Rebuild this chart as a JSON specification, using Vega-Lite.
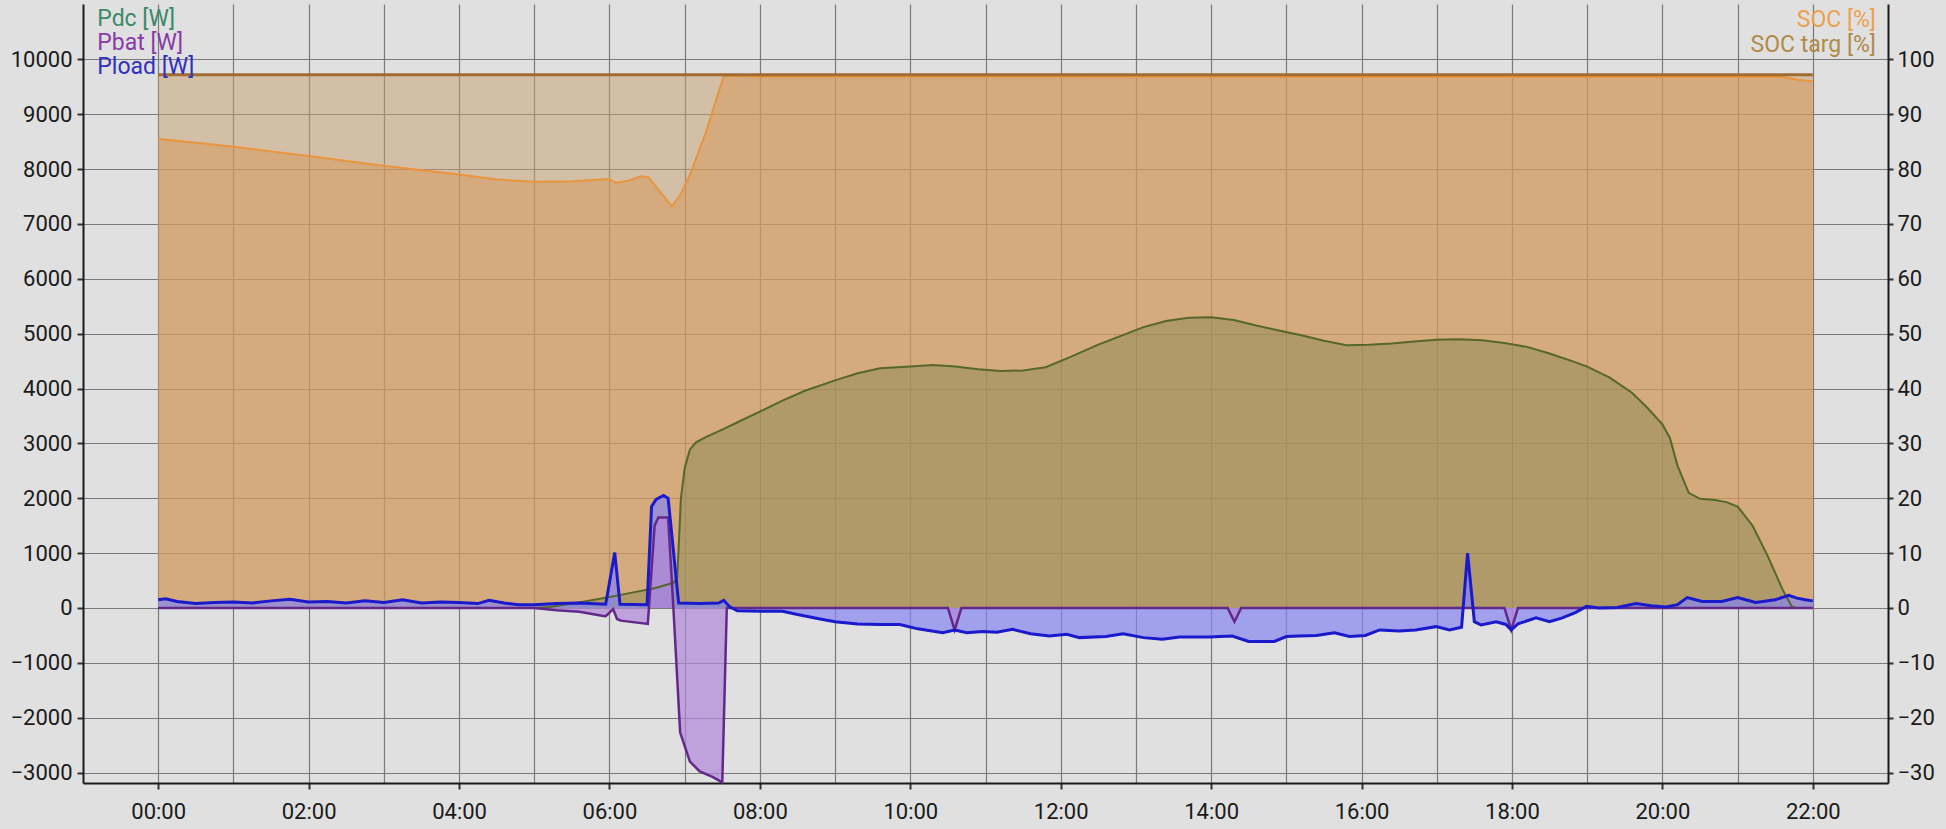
{
  "$schema": "https://vega.github.io/schema/vega-lite/v6.json",
  "width": 1805,
  "height": 779,
  "autosize": {"type": "none"},
  "padding": {"left": 83, "top": 4, "right": 58, "bottom": 46},
  "background": "#e0e0e0",
  "config": {
    "view": {"stroke": null, "fill": "#e0e0e0"},
    "font": "Roboto",
    "axis": {
      "labelFont": "Roboto",
      "labelFontSize": 22,
      "labelColor": "#1a1a1a",
      "domainColor": "#1a1a1a",
      "domainWidth": 2,
      "tickColor": "#333333",
      "tickWidth": 2,
      "gridColor": "#7a7a7a",
      "gridWidth": 1.2,
      "titleOpacity": 0
    }
  },
  "datasets": {
    "targ": [{"h": 0, "v": 97.2}, {"h": 22, "v": 97.2}],
    "soc": [
      {"h": 0, "v": 85.5}, {"h": 0.5, "v": 84.8}, {"h": 1, "v": 84.1}, {"h": 1.5, "v": 83.2},
      {"h": 2, "v": 82.4}, {"h": 2.5, "v": 81.5}, {"h": 3, "v": 80.6}, {"h": 3.5, "v": 79.8},
      {"h": 4, "v": 79.0}, {"h": 4.5, "v": 78.1}, {"h": 5, "v": 77.7}, {"h": 5.5, "v": 77.8},
      {"h": 6.0, "v": 78.2}, {"h": 6.09, "v": 77.5}, {"h": 6.25, "v": 77.9}, {"h": 6.42, "v": 78.7},
      {"h": 6.52, "v": 78.5}, {"h": 6.83, "v": 73.2}, {"h": 6.95, "v": 75.5}, {"h": 7.08, "v": 79.3},
      {"h": 7.28, "v": 86.6}, {"h": 7.39, "v": 91.4}, {"h": 7.52, "v": 97.0}, {"h": 8, "v": 96.9},
      {"h": 12, "v": 96.9}, {"h": 16, "v": 96.8}, {"h": 21.6, "v": 96.8}, {"h": 21.8, "v": 96.3},
      {"h": 22, "v": 96.0}
    ],
    "pdc": [
      {"h": 0, "v": 0}, {"h": 5.0, "v": 0}, {"h": 5.2, "v": 20}, {"h": 5.5, "v": 80}, {"h": 5.8, "v": 150},
      {"h": 6.0, "v": 200}, {"h": 6.3, "v": 280}, {"h": 6.6, "v": 360}, {"h": 6.85, "v": 460},
      {"h": 6.9, "v": 550}, {"h": 6.92, "v": 1100}, {"h": 6.95, "v": 2000}, {"h": 7.0, "v": 2550},
      {"h": 7.07, "v": 2890}, {"h": 7.15, "v": 3020}, {"h": 7.3, "v": 3130}, {"h": 7.5, "v": 3250},
      {"h": 7.8, "v": 3450}, {"h": 8.0, "v": 3580}, {"h": 8.3, "v": 3780}, {"h": 8.6, "v": 3960},
      {"h": 9.0, "v": 4150}, {"h": 9.3, "v": 4280}, {"h": 9.6, "v": 4370}, {"h": 10.0, "v": 4400},
      {"h": 10.3, "v": 4430}, {"h": 10.6, "v": 4400}, {"h": 10.9, "v": 4350}, {"h": 11.2, "v": 4320},
      {"h": 11.5, "v": 4330}, {"h": 11.8, "v": 4390}, {"h": 12.1, "v": 4560}, {"h": 12.5, "v": 4800},
      {"h": 12.8, "v": 4960}, {"h": 13.1, "v": 5120}, {"h": 13.4, "v": 5230}, {"h": 13.7, "v": 5290},
      {"h": 14.0, "v": 5300}, {"h": 14.3, "v": 5250}, {"h": 14.6, "v": 5150}, {"h": 14.9, "v": 5060},
      {"h": 15.2, "v": 4970}, {"h": 15.5, "v": 4870}, {"h": 15.8, "v": 4790}, {"h": 16.1, "v": 4800},
      {"h": 16.4, "v": 4820}, {"h": 16.7, "v": 4860}, {"h": 17.0, "v": 4890}, {"h": 17.3, "v": 4900},
      {"h": 17.6, "v": 4880}, {"h": 17.9, "v": 4830}, {"h": 18.2, "v": 4760}, {"h": 18.5, "v": 4640},
      {"h": 18.8, "v": 4500}, {"h": 19.0, "v": 4400}, {"h": 19.3, "v": 4200}, {"h": 19.6, "v": 3920},
      {"h": 19.8, "v": 3650}, {"h": 20.0, "v": 3350}, {"h": 20.1, "v": 3100}, {"h": 20.2, "v": 2600},
      {"h": 20.35, "v": 2100}, {"h": 20.5, "v": 1990}, {"h": 20.7, "v": 1970}, {"h": 20.85, "v": 1930},
      {"h": 21.0, "v": 1850}, {"h": 21.2, "v": 1500}, {"h": 21.4, "v": 950}, {"h": 21.6, "v": 330},
      {"h": 21.72, "v": 30}, {"h": 21.78, "v": 0}, {"h": 22.0, "v": 0}
    ],
    "pbat": [
      {"h": 0, "v": 0}, {"h": 5.0, "v": 0}, {"h": 5.3, "v": -40}, {"h": 5.6, "v": -70}, {"h": 5.9, "v": -140},
      {"h": 5.95, "v": -150}, {"h": 6.05, "v": -20}, {"h": 6.1, "v": -200}, {"h": 6.15, "v": -230},
      {"h": 6.51, "v": -290}, {"h": 6.6, "v": 1500}, {"h": 6.65, "v": 1650}, {"h": 6.78, "v": 1650},
      {"h": 6.85, "v": 0}, {"h": 6.94, "v": -2270}, {"h": 7.07, "v": -2800}, {"h": 7.2, "v": -2980},
      {"h": 7.37, "v": -3080}, {"h": 7.5, "v": -3180}, {"h": 7.56, "v": 0}, {"h": 10.5, "v": 0},
      {"h": 10.59, "v": -400}, {"h": 10.68, "v": 0}, {"h": 14.22, "v": 0}, {"h": 14.31, "v": -250},
      {"h": 14.4, "v": 0}, {"h": 17.9, "v": 0}, {"h": 17.99, "v": -400}, {"h": 18.08, "v": 0},
      {"h": 22, "v": 0}
    ],
    "pload": [
      {"h": 0.0, "v": 150}, {"h": 0.1, "v": 170}, {"h": 0.25, "v": 120}, {"h": 0.5, "v": 80}, {"h": 0.75, "v": 100},
      {"h": 1.0, "v": 110}, {"h": 1.25, "v": 90}, {"h": 1.5, "v": 130}, {"h": 1.75, "v": 160}, {"h": 2.0, "v": 110},
      {"h": 2.25, "v": 120}, {"h": 2.5, "v": 90}, {"h": 2.75, "v": 130}, {"h": 3.0, "v": 100}, {"h": 3.25, "v": 150},
      {"h": 3.5, "v": 90}, {"h": 3.75, "v": 110}, {"h": 4.0, "v": 100}, {"h": 4.25, "v": 80}, {"h": 4.4, "v": 140},
      {"h": 4.6, "v": 90}, {"h": 4.8, "v": 60}, {"h": 5.0, "v": 60}, {"h": 5.3, "v": 80}, {"h": 5.6, "v": 90},
      {"h": 5.95, "v": 70}, {"h": 6.07, "v": 1010}, {"h": 6.14, "v": 70}, {"h": 6.5, "v": 60}, {"h": 6.56, "v": 1850},
      {"h": 6.62, "v": 1980}, {"h": 6.72, "v": 2050}, {"h": 6.78, "v": 2000}, {"h": 6.92, "v": 90}, {"h": 7.2, "v": 80},
      {"h": 7.45, "v": 90}, {"h": 7.52, "v": 140}, {"h": 7.6, "v": 20}, {"h": 7.7, "v": -50}, {"h": 8.0, "v": -60},
      {"h": 8.3, "v": -60}, {"h": 8.5, "v": -120}, {"h": 8.8, "v": -200}, {"h": 9.0, "v": -250}, {"h": 9.3, "v": -290},
      {"h": 9.6, "v": -300}, {"h": 9.86, "v": -300}, {"h": 10.1, "v": -380}, {"h": 10.43, "v": -450}, {"h": 10.59, "v": -400},
      {"h": 10.75, "v": -450}, {"h": 10.96, "v": -430}, {"h": 11.15, "v": -440}, {"h": 11.36, "v": -390}, {"h": 11.6, "v": -470},
      {"h": 11.85, "v": -510}, {"h": 12.08, "v": -480}, {"h": 12.25, "v": -540}, {"h": 12.6, "v": -520}, {"h": 12.83, "v": -470},
      {"h": 13.1, "v": -540}, {"h": 13.35, "v": -570}, {"h": 13.58, "v": -530}, {"h": 13.97, "v": -530}, {"h": 14.28, "v": -510},
      {"h": 14.5, "v": -610}, {"h": 14.84, "v": -610}, {"h": 15.0, "v": -520}, {"h": 15.17, "v": -510}, {"h": 15.4, "v": -500},
      {"h": 15.64, "v": -450}, {"h": 15.84, "v": -520}, {"h": 16.05, "v": -500}, {"h": 16.24, "v": -400}, {"h": 16.5, "v": -420},
      {"h": 16.72, "v": -400}, {"h": 16.99, "v": -340}, {"h": 17.17, "v": -400}, {"h": 17.33, "v": -350}, {"h": 17.41, "v": 1000},
      {"h": 17.5, "v": -250}, {"h": 17.59, "v": -310}, {"h": 17.79, "v": -250}, {"h": 17.92, "v": -300}, {"h": 17.99, "v": -400},
      {"h": 18.08, "v": -290}, {"h": 18.32, "v": -180}, {"h": 18.5, "v": -250}, {"h": 18.67, "v": -180}, {"h": 18.85, "v": -80},
      {"h": 18.99, "v": 30}, {"h": 19.16, "v": 0}, {"h": 19.4, "v": 10}, {"h": 19.65, "v": 80}, {"h": 19.85, "v": 40},
      {"h": 20.05, "v": 20}, {"h": 20.2, "v": 60}, {"h": 20.33, "v": 190}, {"h": 20.53, "v": 120}, {"h": 20.79, "v": 120},
      {"h": 21.0, "v": 190}, {"h": 21.24, "v": 100}, {"h": 21.5, "v": 150}, {"h": 21.68, "v": 230}, {"h": 21.79, "v": 180},
      {"h": 21.9, "v": 150}, {"h": 22.0, "v": 130}
    ],
    "legL": [
      {"label": "Pdc [W]", "lx": -0.81, "ly": 10609, "c": "Pdc"},
      {"label": "Pbat [W]", "lx": -0.81, "ly": 10171, "c": "Pbat"},
      {"label": "Pload [W]", "lx": -0.81, "ly": 9734, "c": "Pload"}
    ],
    "legR": [
      {"label": "SOC [%]", "lx": 22.84, "ly": 10591, "c": "SOC"},
      {"label": "SOC targ [%]", "lx": 22.84, "ly": 10135, "c": "SOC targ"}
    ]
  },
  "encoding": {
    "x": {
      "field": "h",
      "type": "quantitative",
      "scale": {"domain": [-1, 23], "nice": false, "zero": false},
      "axis": {
        "title": null,
        "values": [0, 1, 2, 3, 4, 5, 6, 7, 8, 9, 10, 11, 12, 13, 14, 15, 16, 17, 18, 19, 20, 21, 22],
        "labelExpr": "datum.value % 2 == 0 ? (datum.value < 10 ? '0' : '') + datum.value + ':00' : ''",
        "tickOpacity": {"condition": {"test": "datum.value % 2 == 0", "value": 1}, "value": 0},
        "tickSize": 6,
        "labelPadding": 12,
        "grid": true,
        "labelOverlap": false,
        "labelFlush": false
      }
    }
  },
  "layer": [
    {
      "encoding": {
        "y": {
          "field": "v",
          "type": "quantitative",
          "scale": {"domain": [-31.9, 110.1], "nice": false, "zero": false},
          "axis": {
            "orient": "right",
            "title": null,
            "values": [-30, -20, -10, 0, 10, 20, 30, 40, 50, 60, 70, 80, 90, 100],
            "grid": false,
            "tickSize": 5,
            "labelPadding": 4,
            "labelOverlap": false,
            "labelFlush": false
          }
        }
      },
      "layer": [
        {"data": {"name": "targ"}, "mark": {"type": "area", "color": "#c49e6c", "opacity": 0.5}, "encoding": {"y2": {"datum": 0}}},
        {"data": {"name": "soc"}, "mark": {"type": "area", "color": "#d89554", "opacity": 0.5}, "encoding": {"y2": {"datum": 0}}},
        {"data": {"name": "soc"}, "mark": {"type": "line", "color": "#e8953e", "strokeWidth": 2}, "encoding": {}},
        {"data": {"name": "targ"}, "mark": {"type": "line", "color": "#a06c32", "strokeWidth": 3}, "encoding": {}}
      ]
    },
    {
      "encoding": {
        "y": {
          "field": "v",
          "type": "quantitative",
          "scale": {"domain": [-3190, 11010], "nice": false, "zero": false},
          "axis": {
            "orient": "left",
            "title": null,
            "format": "d",
            "values": [-3000, -2000, -1000, 0, 1000, 2000, 3000, 4000, 5000, 6000, 7000, 8000, 9000, 10000],
            "grid": true,
            "tickSize": 6,
            "labelPadding": 5,
            "labelOverlap": false,
            "labelFlush": false
          }
        }
      },
      "layer": [
        {"data": {"name": "pdc"}, "mark": {"type": "area", "color": "#8b8a57", "opacity": 0.5}, "encoding": {"y2": {"datum": 0}}},
        {"data": {"name": "pload"}, "mark": {"type": "area", "color": "#8585f2", "opacity": 0.7}, "encoding": {"y2": {"datum": 0}}},
        {"data": {"name": "pbat"}, "mark": {"type": "area", "color": "#b088d8", "opacity": 0.7}, "encoding": {"y2": {"datum": 0}}},
        {"data": {"name": "pdc"}, "mark": {"type": "line", "color": "#56672a", "strokeWidth": 2}, "encoding": {}},
        {"data": {"name": "pbat"}, "mark": {"type": "line", "color": "#62288a", "strokeWidth": 2.5}, "encoding": {}},
        {"data": {"name": "pload"}, "mark": {"type": "line", "color": "#1a1acc", "strokeWidth": 3}, "encoding": {}},
        {
          "data": {"name": "legL"},
          "mark": {"type": "text", "align": "left", "baseline": "alphabetic", "fontSize": 23, "font": "Roboto"},
          "encoding": {
            "x": {"field": "lx", "type": "quantitative"},
            "y": {"field": "ly", "type": "quantitative"},
            "text": {"field": "label"},
            "color": {"field": "c", "type": "nominal", "legend": null, "scale": {"domain": ["Pdc", "Pbat", "Pload", "SOC", "SOC targ"], "range": ["#3a8a6a", "#8a3aa8", "#3030c0", "#eea04e", "#b08a48"]}}
          }
        },
        {
          "data": {"name": "legR"},
          "mark": {"type": "text", "align": "right", "baseline": "alphabetic", "fontSize": 23, "font": "Roboto"},
          "encoding": {
            "x": {"field": "lx", "type": "quantitative"},
            "y": {"field": "ly", "type": "quantitative"},
            "text": {"field": "label"},
            "color": {"field": "c", "type": "nominal", "legend": null}
          }
        }
      ]
    }
  ],
  "resolve": {"scale": {"y": "independent"}, "axis": {"y": "independent"}}
}
